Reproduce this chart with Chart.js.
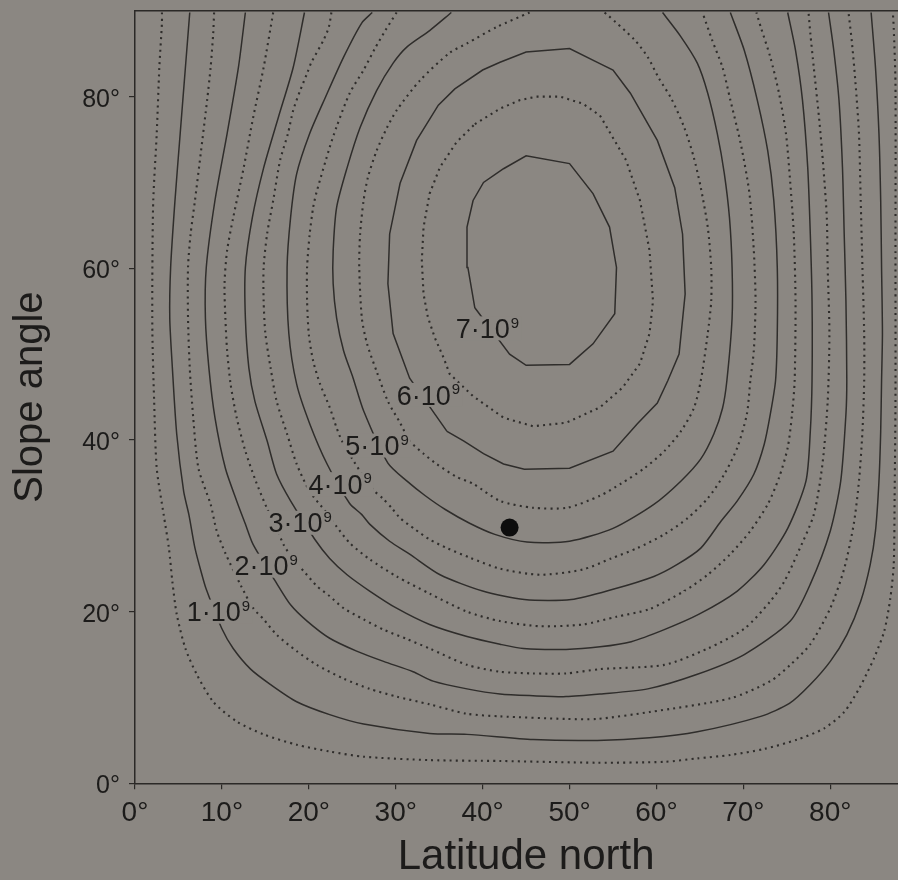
<!DOCTYPE html>
<html><head><meta charset="utf-8">
<script src="https://cdn.jsdelivr.net/npm/chart.js@4/dist/chart.umd.min.js"></script>
<style>
html,body{margin:0;padding:0;background:#8b8782;overflow:hidden;width:898px;height:880px;}
canvas{display:block;}
</style></head><body>
<canvas id="c" width="940" height="880"></canvas>
<script>
// ---- data (latitude °, slope angle °) ----
const xTicks = [0,10,20,30,40,50,60,70,80];
const yTicks = [0,20,40,60,80];
const levels = [0.5,1,1.5,2,2.5,3,3.5,4,4.5,5,5.5,6,6.5,7]; // ×10^9
const labelLevels = [1,2,3,4,5,6,7];

const c05 = [[3.1,89.8],[3.1,88.6],[2.8,83.4],[2.5,75.7],[2.1,67.9],[2.0,60.1],[2.0,52.4],[2.2,44.6],[2.5,36.7],[3.3,31.3],[3.9,27.4],[4.3,23.5],[4.8,19.7],[5.8,15.7],[7.1,12.7],[9.0,9.5],[11.7,7.2],[14.8,5.7],[18.6,4.5],[22.4,3.7],[26.3,3.1],[33.9,2.7],[42.0,2.6],[53.2,2.4],[60.9,2.5],[64.7,2.9],[68.5,3.3],[72.4,4.0],[76.2,5.1],[79.3,6.4],[81.6,8.3],[83.3,11.0],[84.3,13.0],[85.0,14.5],[86.2,17.7],[86.9,21.5],[87.3,25.5],[87.4,33.2],[87.5,44.5],[87.5,62.0],[87.5,81.5],[87.3,88.0],[87.2,89.8]];
const c10 = [[6.3,89.8],[5.8,83.4],[5.2,75.7],[4.6,67.9],[4.1,60.1],[4.0,54.2],[4.3,48.4],[4.8,40.7],[5.6,34.0],[6.2,31.3],[6.9,27.4],[7.7,24.3],[8.2,22.6],[10.0,18.0],[11.3,15.7],[13.3,13.3],[15.6,11.5],[18.6,9.5],[22.4,8.0],[26.3,6.9],[33.9,5.8],[38.2,5.7],[45.8,5.1],[53.2,5.0],[59.2,5.3],[64.7,6.0],[72.0,7.8],[75.3,9.3],[77.7,11.5],[80.0,14.2],[81.9,17.3],[83.5,21.2],[84.6,25.5],[85.2,29.4],[85.6,35.2],[85.8,41.0],[85.9,46.9],[86.0,52.4],[85.9,60.1],[85.8,67.9],[85.6,75.7],[85.2,83.4],[84.7,89.8]];
const c15 = [[9.1,89.8],[9.0,87.4],[8.7,83.4],[8.3,79.6],[7.6,73.7],[6.9,67.9],[6.4,64.0],[6.1,60.1],[6.1,54.2],[6.3,48.4],[6.7,42.6],[7.3,36.7],[8.7,32.5],[9.4,29.4],[10.4,26.8],[12.2,23.0],[13.6,20.4],[14.8,19.1],[16.3,17.3],[18.6,15.4],[20.9,13.8],[24.0,12.2],[27.0,11.0],[30.1,10.1],[33.9,9.2],[38.2,8.1],[42.0,7.8],[49.6,7.5],[53.2,7.5],[59.2,8.3],[68.5,9.9],[73.1,11.9],[75.4,13.8],[77.7,16.2],[80.0,20.4],[81.6,25.0],[82.7,30.2],[83.3,35.2],[83.7,41.0],[83.9,46.9],[83.9,52.4],[83.7,60.1],[83.5,67.9],[83.3,75.7],[82.9,81.6],[82.5,86.2],[82.1,89.8]];
const c20 = [[12.7,89.8],[11.9,83.4],[10.6,75.7],[9.2,67.9],[8.2,60.1],[8.1,54.2],[8.5,48.4],[9.2,42.6],[10.4,36.7],[11.7,32.9],[12.7,30.2],[13.6,27.8],[16.3,23.3],[17.9,20.8],[19.8,18.9],[22.4,16.9],[25.5,15.4],[28.6,14.2],[32.0,13.0],[34.3,11.9],[38.2,11.0],[42.0,10.4],[45.8,10.2],[49.6,10.1],[53.5,10.4],[59.0,11.0],[64.7,12.7],[70.1,15.0],[75.4,18.9],[77.7,23.2],[80.0,29.4],[81.2,35.2],[81.8,43.0],[81.9,47.0],[81.8,56.2],[81.6,64.0],[81.4,71.8],[81.0,79.6],[80.4,85.4],[79.8,89.8]];
const c25 = [[15.9,89.8],[14.8,83.4],[13.6,77.6],[12.5,71.7],[11.3,65.9],[10.6,62.1],[10.3,58.2],[10.4,54.2],[10.6,50.4],[11.0,46.5],[11.7,42.6],[12.7,38.7],[13.9,35.2],[15.2,32.0],[16.3,29.7],[17.1,27.8],[18.2,26.1],[19.6,24.5],[20.9,23.0],[22.4,21.8],[24.0,20.4],[26.3,19.1],[28.6,17.9],[31.3,16.8],[33.9,15.7],[38.2,13.8],[42.0,13.0],[45.8,12.8],[49.6,12.8],[53.5,13.3],[60.9,13.8],[65.9,15.7],[70.1,18.0],[73.1,21.2],[74.7,23.5],[76.2,26.7],[78.1,31.3],[79.1,37.2],[79.7,44.5],[79.9,52.4],[79.7,60.1],[79.6,65.9],[79.2,71.8],[78.7,77.6],[78.1,83.4],[77.7,87.4],[77.5,89.8]];
const c30 = [[19.5,89.8],[18.2,83.4],[16.5,77.6],[14.8,71.7],[13.5,65.9],[12.7,60.1],[12.7,54.2],[13.1,48.4],[13.8,44.5],[15.2,39.9],[16.3,36.0],[17.9,32.9],[20.7,28.4],[22.4,26.2],[24.4,24.3],[27.0,22.4],[30.1,20.4],[33.9,18.5],[38.2,17.1],[42.0,16.2],[44.7,15.7],[49.6,15.6],[53.5,15.9],[57.1,16.5],[60.9,17.9],[64.9,19.7],[69.3,22.4],[72.4,25.5],[75.1,29.7],[77.2,35.2],[77.7,41.0],[77.9,46.9],[77.9,56.2],[77.7,64.0],[77.4,71.8],[76.8,79.6],[76.0,85.4],[75.1,89.8]];
const c35 = [[22.6,89.8],[22.3,88.1],[21.7,86.6],[20.3,84.0],[19.8,82.7],[19.0,80.7],[18.2,78.4],[17.6,75.7],[16.7,72.6],[15.9,67.9],[15.2,64.0],[14.8,60.1],[14.8,56.2],[15.0,52.4],[15.6,48.4],[16.3,44.5],[17.5,40.7],[18.6,37.2],[20.1,34.0],[21.9,31.7],[23.2,29.9],[24.7,28.0],[27.0,26.1],[30.1,24.1],[33.9,22.1],[38.2,20.0],[42.0,18.9],[46.6,18.3],[51.5,18.5],[55.4,19.4],[59.2,20.3],[63.2,22.4],[65.9,24.3],[68.5,26.7],[70.8,29.4],[72.8,32.5],[74.1,35.6],[75.1,39.1],[75.6,43.0],[75.9,46.9],[76.0,56.2],[75.8,64.0],[75.4,69.9],[74.9,75.7],[74.1,80.4],[73.1,84.6],[72.0,88.1],[71.5,89.8]];
const c40 = [[27.3,89.8],[26.1,88.6],[24.0,84.6],[21.9,79.9],[20.1,75.7],[18.6,71.0],[17.9,65.9],[17.5,60.1],[17.7,52.4],[18.6,46.5],[20.1,41.9],[22.1,37.2],[24.7,32.6],[26.1,31.3],[27.0,30.2],[29.3,28.2],[31.6,26.7],[35.1,24.3],[40.0,22.4],[44.8,21.4],[50.2,21.4],[55.0,22.6],[59.7,24.1],[62.4,25.5],[65.1,27.4],[67.4,30.5],[69.3,32.9],[71.2,36.0],[72.4,39.5],[73.1,43.0],[73.7,46.9],[73.9,52.4],[73.9,60.1],[73.5,67.9],[72.8,73.7],[71.6,79.6],[70.1,85.4],[68.5,89.8]];
const c45 = [[30.1,89.8],[28.8,87.7],[27.6,85.6],[26.3,83.1],[24.7,80.4],[23.2,76.5],[22.4,74.1],[20.9,68.9],[20.5,67.1],[20.1,64.0],[19.8,60.1],[19.8,56.2],[20.0,52.3],[20.5,49.2],[21.3,46.5],[22.4,43.8],[23.2,41.4],[23.8,39.9],[25.0,37.8],[26.2,35.9],[27.6,34.0],[28.5,33.2],[29.6,32.0],[30.5,30.9],[32.2,29.6],[33.9,28.4],[35.9,27.4],[38.5,26.3],[42.0,25.0],[46.6,24.3],[51.5,24.9],[54.8,26.2],[57.8,27.4],[60.9,29.0],[63.6,30.9],[65.9,33.2],[67.8,36.0],[69.3,39.1],[70.4,43.0],[70.8,46.9],[71.2,50.4],[71.4,56.2],[71.2,62.1],[70.7,68.7],[69.7,74.5],[68.5,79.6],[67.6,83.4],[66.4,86.6],[65.3,89.8]];
const c50 = [[36.4,89.8],[33.9,87.7],[31.3,85.8],[29.7,83.9],[27.8,80.7],[25.9,76.4],[24.4,71.7],[23.2,67.1],[22.8,62.0],[22.8,58.2],[23.2,54.2],[24.0,50.4],[25.1,47.2],[26.3,43.4],[29.1,37.3],[31.3,35.2],[33.4,33.5],[35.7,31.9],[38.5,30.3],[41.4,29.0],[45.1,28.1],[50.0,28.2],[55.0,29.7],[59.7,32.5],[62.8,35.2],[65.1,37.8],[66.6,40.7],[67.6,43.7],[68.1,46.9],[68.7,54.2],[68.7,60.1],[68.4,65.9],[67.8,71.1],[67.0,75.7],[65.9,80.4],[64.7,83.9],[62.8,87.0],[60.7,89.8]];
const c55 = [[45.4,89.8],[41.6,88.1],[38.2,86.2],[36.2,85.1],[32.8,81.9],[30.1,78.4],[29.0,76.4],[27.8,73.7],[26.8,70.6],[26.3,67.9],[25.9,64.0],[25.8,60.1],[26.1,54.2],[26.7,51.2],[27.8,48.0],[29.1,44.5],[30.5,42.0],[31.6,39.9],[33.2,38.4],[34.7,37.2],[37.0,35.7],[38.9,34.9],[42.0,32.9],[45.8,32.1],[49.7,32.1],[53.5,33.5],[55.9,34.9],[58.6,36.7],[60.9,38.7],[62.8,41.0],[64.3,43.7],[65.1,46.9],[65.9,52.4],[66.3,56.2],[66.3,60.1],[65.9,64.8],[65.1,69.4],[64.3,72.9],[63.2,76.4],[61.7,79.8],[60.3,82.1],[59.0,84.6],[57.5,86.6],[54.4,89.5],[54.0,89.8]];
const c60 = [[35.9,41.0],[37.8,39.9],[40.1,38.4],[42.4,37.2],[44.8,36.6],[50.0,36.7],[55.0,38.7],[57.8,41.9],[60.1,44.3],[61.3,46.9],[62.6,50.0],[63.3,57.0],[63.0,64.0],[62.1,69.4],[60.1,74.9],[57.0,80.4],[55.0,83.1],[53.2,84.0],[50.0,85.6],[45.0,85.2],[42.0,84.0],[40.0,83.1],[36.8,80.9],[34.9,79.0],[32.4,74.9],[30.5,69.9],[29.3,64.0],[29.1,58.2],[29.7,52.4],[31.6,47.2],[35.9,41.0]];
const c65 = [[39.1,76.8],[42.0,78.6],[44.3,79.6],[46.2,80.0],[48.9,80.0],[51.5,79.2],[53.5,77.8],[55.4,74.5],[56.5,72.6],[58.1,67.9],[59.2,62.1],[59.6,56.2],[59.2,52.4],[58.1,48.9],[56.1,46.1],[53.5,43.8],[49.6,42.0],[45.8,41.6],[42.4,42.6],[38.9,45.1],[36.2,47.7],[35.5,49.6],[34.5,51.9],[33.7,54.3],[33.2,57.0],[33.0,60.9],[33.2,64.8],[33.9,68.7],[35.1,71.8],[37.0,74.7],[39.1,76.8]];
const c70 = [[39.1,55.4],[38.3,60.1],[38.2,64.8],[38.9,67.9],[40.1,70.0],[42.4,71.6],[45.0,73.1],[50.0,72.2],[52.7,68.7],[54.6,64.8],[55.4,60.1],[55.2,54.7],[52.7,51.2],[50.0,48.8],[45.0,48.7],[43.1,50.0],[39.1,55.4]];
const marker = [[43.1,29.8]];

// ---- label anchors (data coordinates) ----
const labelCfg = {
  lat:   [9.6, 15.1, 19.0, 23.6, 27.85, 33.75, 40.55],
  slope: [20.0, 25.35, 30.35, 34.85, 39.35, 45.25, 53.0]
};

const contours = [c05,c10,c15,c20,c25,c30,c35,c40,c45,c50,c55,c60,c65,c70];
const BG = '#8b8782';
const INK = '#1c1b1a';
const LINE = '#2f2d2b';
const FONT = '"Liberation Sans", Arial, Helvetica, sans-serif';
Chart.defaults.font.family = FONT;

const datasets = contours.map((arr, i) => {
  const lv = levels[i];
  const dotted = (lv % 1) !== 0;
  const closed = lv >= 6;
  return {
    label: lv + 'e9',
    data: arr.map(p => ({x: p[0], y: p[1]})),
    showLine: true,
    pointRadius: 0,
    borderColor: LINE,
    borderWidth: dotted ? 2.1 : 1.5,
    borderDash: dotted ? [2, 4.2] : [],
    tension: closed ? 0 : 0.25,
    fill: false
  };
});
datasets.push({
  label: 'site',
  data: marker.map(p => ({x: p[0], y: p[1]})),
  showLine: false,
  pointRadius: 9,
  pointBackgroundColor: '#0d0d0d',
  pointBorderWidth: 0
});

const bgPlugin = {
  id: 'bg',
  beforeDraw(chart) {
    const c = chart.ctx;
    c.save(); c.fillStyle = BG; c.fillRect(0, 0, chart.width, chart.height); c.restore();
  }
};

const labelPlugin = {
  id: 'contourLabels',
  afterDatasetsDraw(chart) {
    const {ctx, scales: {x, y}} = chart;
    const big = 27, small = 15;
    ctx.save();
    labelLevels.forEach((lv, i) => {
      const cx = x.getPixelForValue(labelCfg.lat[i]);
      const cy = y.getPixelForValue(labelCfg.slope[i]);
      const main = lv + '\u00B7' + '10';
      const sup = '9';
      ctx.font = big + 'px ' + FONT;
      const w1 = ctx.measureText(main).width;
      ctx.font = small + 'px ' + FONT;
      const w2 = ctx.measureText(sup).width;
      const w = w1 + 1 + w2;
      const left = cx - w / 2;
      ctx.fillStyle = BG;
      ctx.fillRect(left - 2, cy - 12, w + 4, 24);
      ctx.fillStyle = INK;
      ctx.textAlign = 'left';
      ctx.textBaseline = 'alphabetic';
      const base = cy + 0.358 * big;
      ctx.font = big + 'px ' + FONT;
      ctx.fillText(main, left, base);
      ctx.font = small + 'px ' + FONT;
      ctx.fillText(sup, left + w1 + 1, base - 10.5);
    });
    ctx.restore();
  }
};

new Chart(document.getElementById('c'), {
  type: 'scatter',
  data: { datasets },
  options: {
    responsive: false,
    animation: false,
    devicePixelRatio: 1,
    layout: { padding: { left: 0, right: 22.8, top: 10.8, bottom: 0 } },
    plugins: { legend: { display: false }, tooltip: { enabled: false } },
    scales: {
      x: {
        type: 'linear', position: 'bottom', min: 0, max: 90,
        afterBuildTicks: s => { s.ticks = xTicks.map(v => ({value: v})); },
        afterFit: s => { s.height = 96.7; s.paddingLeft = 0; s.paddingRight = 0; },
        grid: { drawOnChartArea: false, drawTicks: true, tickLength: 6, color: '#2b2927', lineWidth: 1.2 },
        border: { display: true, color: '#2b2927', width: 1.5 },
        ticks: { color: INK, font: { size: 28 }, padding: 7, maxRotation: 0, autoSkip: false, callback: v => v + '°' },
        title: { display: true, text: 'Latitude north', color: INK, font: { size: 42, lineHeight: 1 }, padding: { top: 0, bottom: 1.7 } }
      },
      xTop: {
        type: 'linear', position: 'top', min: 0, max: 90,
        afterFit: s => { s.height = 0; s.paddingLeft = 0; s.paddingRight = 0; },
        grid: { drawOnChartArea: false, drawTicks: false },
        border: { display: true, color: '#2b2927', width: 1.5 },
        ticks: { display: false }
      },
      y: {
        type: 'linear', position: 'left', min: 0, max: 90,
        afterBuildTicks: s => { s.ticks = yTicks.map(v => ({value: v})); },
        afterFit: s => { s.width = 135; s.paddingTop = 0; s.paddingBottom = 0; },
        grid: { drawOnChartArea: false, drawTicks: true, tickLength: 6, color: '#2b2927', lineWidth: 1.2 },
        border: { display: true, color: '#2b2927', width: 1.5 },
        ticks: { color: INK, font: { size: 25 }, padding: 9, labelOffset: 3, callback: v => v + '°' },
        title: { display: true, text: 'Slope angle', color: INK, font: { size: 40, lineHeight: 1 }, padding: { top: 11, bottom: 0 } }
      }
    }
  },
  plugins: [bgPlugin, labelPlugin]
});
</script>
</body></html>
